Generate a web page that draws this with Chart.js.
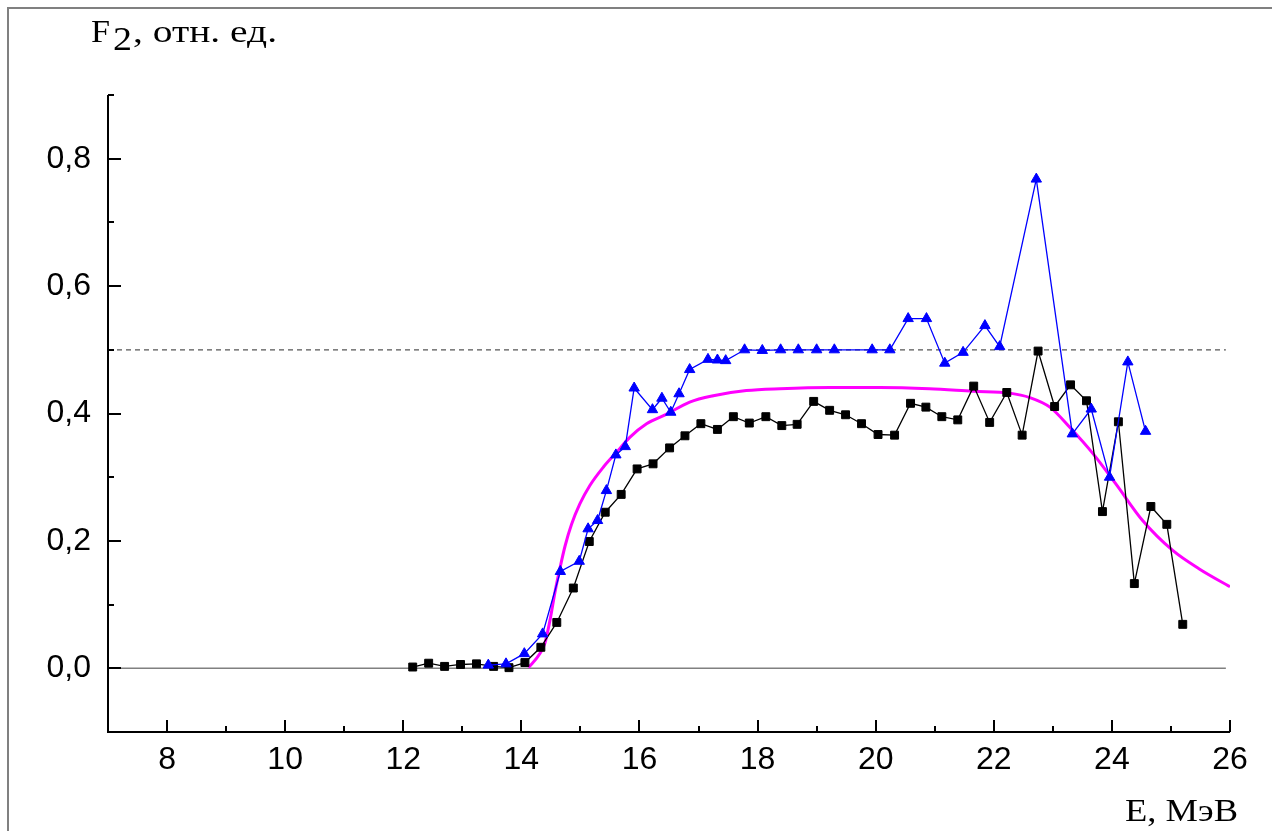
<!DOCTYPE html>
<html>
<head>
<meta charset="utf-8">
<script src="https://cdn.jsdelivr.net/npm/chart.js@4.4.1/dist/chart.umd.min.js"></script>
<style>
  html, body { margin: 0; padding: 0; background: #ffffff; }
  #c { display: block; }
</style>
</head>
<body>
<canvas id="c" width="1272" height="831"></canvas>
<script>
// Measured F2 (squares)
const energyBlack = [12.16,12.43,12.70,12.97,13.24,13.53,13.79,14.06,14.33,14.60,14.88,15.15,15.42,15.69,15.96,16.23,16.51,16.77,17.04,17.32,17.59,17.86,18.14,18.41,18.67,18.95,19.22,19.49,19.76,20.04,20.32,20.59,20.85,21.12,21.39,21.66,21.93,22.22,22.48,22.75,23.03,23.30,23.57,23.84,24.11,24.38,24.66,24.93,25.20];
const f2Black = [0.002,0.008,0.003,0.006,0.007,0.003,0.001,0.009,0.033,0.072,0.126,0.199,0.245,0.273,0.313,0.321,0.346,0.365,0.384,0.375,0.395,0.385,0.395,0.381,0.383,0.419,0.405,0.398,0.384,0.367,0.366,0.416,0.410,0.395,0.390,0.443,0.386,0.433,0.366,0.498,0.411,0.445,0.420,0.246,0.387,0.133,0.254,0.226,0.069];

// Measured F2 (triangles)
const energyBlue = [13.44,13.74,14.05,14.36,14.66,14.98,15.13,15.29,15.44,15.60,15.76,15.91,16.22,16.38,16.53,16.67,16.85,17.16,17.32,17.46,17.78,18.08,18.39,18.69,19.00,19.30,19.94,20.24,20.55,20.86,21.17,21.48,21.85,22.10,22.72,23.33,23.65,23.96,24.27,24.57];
const f2Blue = [0.005,0.007,0.023,0.054,0.152,0.168,0.219,0.232,0.279,0.335,0.348,0.440,0.406,0.424,0.402,0.431,0.469,0.485,0.484,0.483,0.500,0.499,0.500,0.500,0.500,0.500,0.500,0.500,0.549,0.549,0.479,0.496,0.538,0.505,0.768,0.368,0.407,0.300,0.481,0.372];

// Calculated curve
const energyCalc = [14.12,14.32,14.40,14.49,14.57,14.66,14.74,14.85,14.99,15.16,15.39,15.61,15.84,16.12,16.46,16.85,17.25,17.81,18.38,19.22,20.07,20.91,21.65,22.27,22.61,22.95,23.29,23.68,24.07,24.52,25.03,25.48,26.00];
const f2Calc = [0.001,0.024,0.040,0.078,0.120,0.160,0.192,0.226,0.258,0.287,0.316,0.339,0.363,0.384,0.399,0.418,0.428,0.436,0.439,0.441,0.441,0.439,0.435,0.432,0.425,0.410,0.378,0.337,0.289,0.232,0.185,0.156,0.128];

// Reference levels
const guideEnergy = [7, 25.93];
const levelHalf = 0.5;
const levelZero = 0;

// Axes
const xMajor = [8, 10, 12, 14, 16, 18, 20, 22, 24, 26];
const xMinor = [9, 11, 13, 15, 17, 19, 21, 23, 25];
const yMajor = [0, 0.2, 0.4, 0.6, 0.8];
const yMajorLabels = ['0,0', '0,2', '0,4', '0,6', '0,8'];
const yMinor = [0.1, 0.3, 0.5, 0.7, 0.9];

const toPoints = (xs, ys) => xs.map((x, i) => ({ x: x, y: ys[i] }));
const flat = (xs, level) => xs.map(x => ({ x: x, y: level }));

const SANS = '"Liberation Sans", Arial, sans-serif';
const SERIF = '"Liberation Serif", "Times New Roman", serif';

function stretchedText(ctx, text, x, baseline, font, width) {
  ctx.save();
  ctx.font = font;
  ctx.fillStyle = '#000';
  ctx.textBaseline = 'alphabetic';
  ctx.textAlign = 'left';
  const w = ctx.measureText(text).width;
  ctx.translate(x, baseline);
  ctx.scale(width / w, 1);
  ctx.fillText(text, 0, 0);
  ctx.restore();
}

// Frame, axis lines, inward tick marks and axis captions
const decor = {
  id: 'decor',
  afterDraw(chart) {
    const ctx = chart.ctx;
    const xs = chart.scales.x, ys = chart.scales.y;
    const left = xs.getPixelForValue(7);
    const right = xs.getPixelForValue(26);
    const bottom = ys.getPixelForValue(-0.1);
    const top = ys.getPixelForValue(0.9);

    ctx.save();
    // outer frame (left and top)
    ctx.strokeStyle = '#808080';
    ctx.lineWidth = 2;
    ctx.beginPath();
    ctx.moveTo(8, 831);
    ctx.lineTo(8, 8);
    ctx.lineTo(1272, 8);
    ctx.stroke();

    // axis lines
    ctx.strokeStyle = '#000';
    ctx.lineWidth = 2;
    ctx.beginPath();
    ctx.moveTo(left, top);
    ctx.lineTo(left, bottom);
    ctx.lineTo(right, bottom);
    ctx.stroke();

    // x ticks
    ctx.lineWidth = 2;
    ctx.beginPath();
    xMajor.forEach(v => {
      const p = Math.round(xs.getPixelForValue(v));
      ctx.moveTo(p, bottom);
      ctx.lineTo(p, bottom - 12);
    });
    xMinor.forEach(v => {
      const p = Math.round(xs.getPixelForValue(v));
      ctx.moveTo(p, bottom);
      ctx.lineTo(p, bottom - 6);
    });
    // y ticks
    yMajor.forEach(v => {
      const p = Math.round(ys.getPixelForValue(v));
      ctx.moveTo(left, p);
      ctx.lineTo(left + 13, p);
    });
    yMinor.forEach(v => {
      const p = Math.round(ys.getPixelForValue(v));
      ctx.moveTo(left, p);
      ctx.lineTo(left + 6, p);
    });
    ctx.stroke();
    ctx.restore();

    // captions
    stretchedText(ctx, 'F', 91, 42, '32px ' + SERIF, 19);
    stretchedText(ctx, '2', 113, 50, '34px ' + SERIF, 19);
    stretchedText(ctx, ', отн. ед.', 133, 42, '32px ' + SERIF, 144);
    stretchedText(ctx, 'E, МэВ', 1125, 821, '32px ' + SERIF, 113);
  }
};

new Chart(document.getElementById('c'), {
  type: 'line',
  data: {
    datasets: [
      {
        label: 'blue',
        data: toPoints(energyBlue, f2Blue),
        borderColor: '#0000ff',
        backgroundColor: '#0000ff',
        borderWidth: 1.3,
        pointStyle: 'triangle',
        pointRadius: 6,
        pointBorderWidth: 1,
        tension: 0,
        order: 0
      },
      {
        label: 'black',
        data: toPoints(energyBlack, f2Black),
        borderColor: '#000000',
        backgroundColor: '#000000',
        borderWidth: 1.3,
        pointStyle: 'rect',
        pointRadius: 5.6,
        pointBorderWidth: 1,
        tension: 0,
        order: 1
      },
      {
        label: 'calc',
        data: toPoints(energyCalc, f2Calc),
        borderColor: '#ff00ff',
        borderWidth: 3,
        pointRadius: 0,
        cubicInterpolationMode: 'monotone',
        order: 2
      },
      {
        label: 'half',
        data: flat(guideEnergy, levelHalf),
        borderColor: '#555555',
        borderWidth: 1.2,
        borderDash: [5, 4],
        pointRadius: 0,
        order: 3
      },
      {
        label: 'zero',
        data: flat(guideEnergy, levelZero),
        borderColor: '#808080',
        borderWidth: 1.5,
        pointRadius: 0,
        order: 4
      }
    ]
  },
  options: {
    responsive: false,
    animation: false,
    devicePixelRatio: 1,
    layout: { padding: { top: 95, right: 42, left: 0, bottom: 0 } },
    plugins: { legend: { display: false }, tooltip: { enabled: false } },
    elements: { line: { fill: false } },
    scales: {
      x: {
        type: 'linear',
        min: 7,
        max: 26,
        afterBuildTicks: s => { s.ticks = xMajor.map(v => ({ value: v })); },
        afterFit: s => { s.height = 99; },
        grid: { display: false, drawTicks: false },
        border: { display: false },
        ticks: {
          color: '#000',
          font: { family: SANS, size: 32 },
          padding: 9,
          maxRotation: 0,
          autoSkip: false,
          callback: v => String(v)
        }
      },
      y: {
        type: 'linear',
        min: -0.1,
        max: 0.9,
        afterBuildTicks: s => { s.ticks = yMajor.map(v => ({ value: v })); },
        afterFit: s => { s.width = 108; },
        grid: { display: false, drawTicks: false },
        border: { display: false },
        ticks: {
          color: '#000',
          font: { family: SANS, size: 32 },
          padding: 17,
          autoSkip: false,
          callback: v => yMajorLabels[yMajor.indexOf(v)]
        }
      }
    }
  },
  plugins: [decor]
});
</script>
</body>
</html>
